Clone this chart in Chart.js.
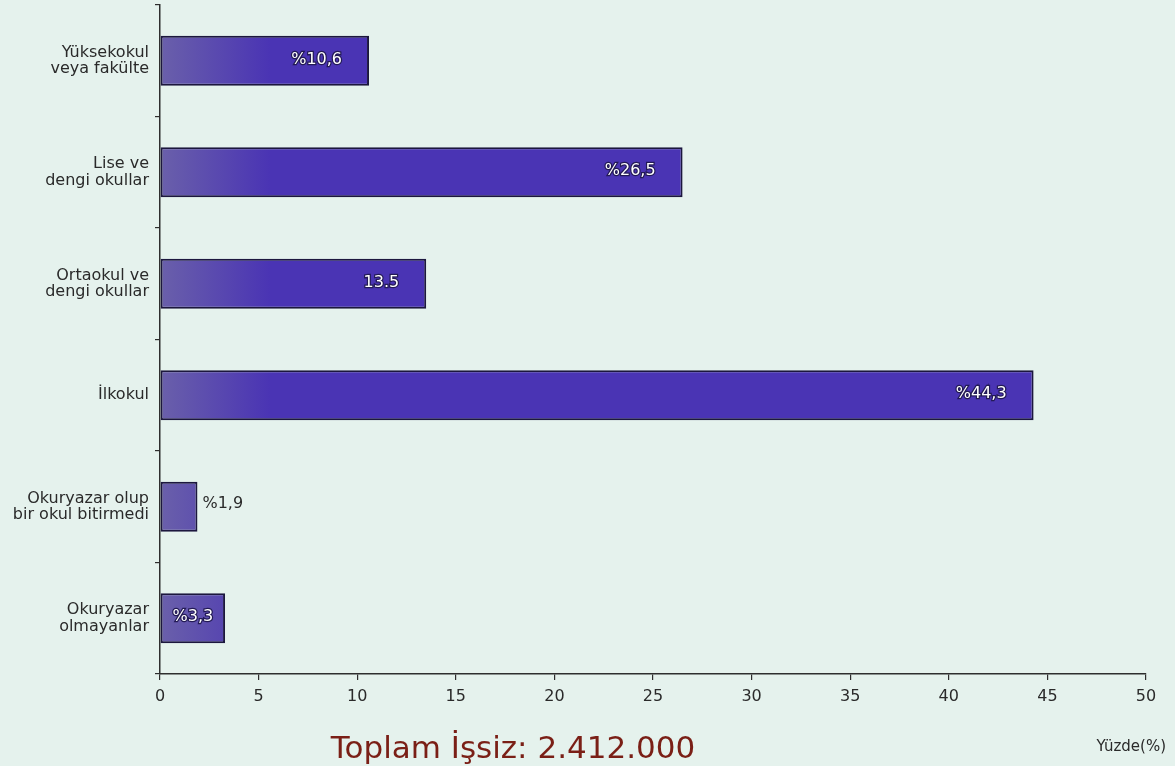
<!DOCTYPE html>
<html>
<head>
<meta charset="utf-8">
<script src="https://cdn.jsdelivr.net/npm/chart.js@4/dist/chart.umd.min.js"></script>
<style>
  html, body { margin: 0; padding: 0; background: #e5f2ed; }
  #wrap { width: 1175px; height: 766px; }
</style>
</head>
<body>
<div id="wrap"><canvas id="myChart" width="1175" height="766"></canvas></div>
<script>
const categories = [
  ['Yüksekokul', 'veya fakülte'],
  ['Lise ve', 'dengi okullar'],
  ['Ortaokul ve', 'dengi okullar'],
  'İlkokul',
  ['Okuryazar olup', 'bir okul bitirmedi'],
  ['Okuryazar', 'olmayanlar']
];
const values = [10.6, 26.5, 13.5, 44.3, 1.9, 3.3];
const valueLabels = ['%10,6', '%26,5', '13.5', '%44,3', '%1,9', '%3,3'];
const xTicks = [0, 5, 10, 15, 20, 25, 30, 35, 40, 45, 50];
const totalText = 'Toplam İşsiz: 2.412.000';
const unitText = 'Yüzde(%)';

const FONT = '"DejaVu Sans", Lato, sans-serif';

// yazılar: bar içi etiketler + alt başlıklar
const textPlugin = {
  id: 'texts',
  afterDatasetsDraw(chart) {
    const c = chart.ctx;
    const meta = chart.getDatasetMeta(0);
    c.save();
    c.font = '16px ' + FONT;
    c.textBaseline = 'middle';
    meta.data.forEach((bar, i) => {
      const v = values[i];
      const txt = valueLabels[i];
      if (v < 2.5) {
        c.textAlign = 'left';
        c.fillStyle = '#2a2a2a';
        c.fillText(txt, bar.x + 5, bar.y - 3);
      } else {
        let x;
        if (v < 5) { c.textAlign = 'center'; x = (bar.base + bar.x) / 2; }
        else { c.textAlign = 'right'; x = bar.x - 27; }
        c.lineWidth = 2.5;
        c.strokeStyle = '#231a55';
        c.strokeText(txt, x, bar.y - 1);
        c.fillStyle = '#ffffff';
        c.fillText(txt, x, bar.y - 1);
      }
    });
    c.textAlign = 'center';
    c.textBaseline = 'alphabetic';
    c.font = '31px ' + FONT;
    c.fillStyle = '#7a1f16';
    c.fillText(totalText, 513, 758);
    c.textAlign = 'right';
    c.font = '15px ' + FONT;
    c.fillStyle = '#2a2a2a';
    c.fillText(unitText, 1166, 751);
    c.restore();
  }
};

const ctx = document.getElementById('myChart');

new Chart(ctx, {
  type: 'bar',
  data: {
    labels: categories,
    datasets: [{
      data: values,
      backgroundColor: (context) => {
        const area = context.chart.chartArea;
        if (!area) return '#4a34b4';
        const g = context.chart.ctx.createLinearGradient(area.left, 0, area.left + 110, 0);
        g.addColorStop(0, '#6a60aa');
        g.addColorStop(1, '#4a34b4');
        return g;
      },
      borderColor: '#1c173e',
      borderWidth: 2,
      borderSkipped: false,
      barPercentage: 0.45,
      categoryPercentage: 1
    }]
  },
  options: {
    indexAxis: 'y',
    responsive: false,
    animation: false,
    layout: { padding: { top: 5, right: 29, left: 0, bottom: 0 } },
    plugins: {
      legend: { display: false },
      tooltip: { enabled: false }
    },
    scales: {
      x: {
        min: 0,
        max: 50,
        afterBuildTicks: (scale) => { scale.ticks = xTicks.map(v => ({ value: v })); },
        afterFit: (scale) => { scale.height = 92; },
        border: { display: true, color: '#2e2e2e', width: 1.5 },
        grid: { display: true, drawOnChartArea: false, color: '#2e2e2e', tickLength: 6, lineWidth: 1.2 },
        ticks: { color: '#2a2a2a', font: { family: FONT, size: 16 }, padding: 7 }
      },
      y: {
        afterFit: (scale) => {
          scale.width = 160;
          scale.paddingTop = 0;
          scale.paddingBottom = 0;
        },
        border: { display: true, color: '#2e2e2e', width: 1.5 },
        grid: { display: true, drawOnChartArea: false, offset: true, color: '#2e2e2e', tickLength: 5, lineWidth: 1.2 },
        ticks: { color: '#2a2a2a', font: { family: FONT, size: 16, lineHeight: 1.05 }, padding: 6 }
      }
    }
  },
  plugins: [textPlugin]
});
</script>
</body>
</html>
